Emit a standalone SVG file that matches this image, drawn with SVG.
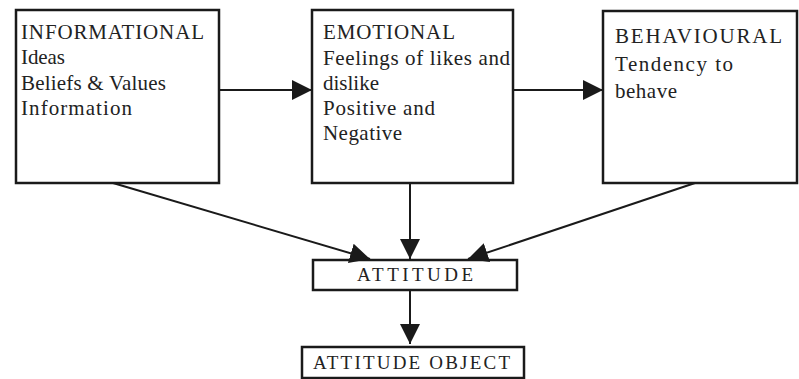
<svg xmlns="http://www.w3.org/2000/svg" width="799" height="379" viewBox="0 0 799 379">
<style>
.box{fill:none;stroke:#1a1a1a;stroke-width:2.5}
.t{font-family:"Liberation Serif","Times New Roman",serif;font-size:21px;fill:#222}
.s{font-family:"Liberation Serif","Times New Roman",serif;font-size:19px;fill:#222}
.c{stroke:#1a1a1a;stroke-width:2;fill:none}
</style>
<defs>
<marker id="ah" viewBox="0 0 20 20" refX="20" refY="10" markerWidth="20" markerHeight="20" markerUnits="userSpaceOnUse" orient="auto">
<path d="M0,0 L20,10 L0,20 Z" fill="#1a1a1a"/>
</marker>
</defs>
<rect width="799" height="379" fill="#fff"/>
<g id="informational">
<rect class="box" x="16" y="10" width="203" height="173"/>
<text class="t" x="21" y="39" textLength="183" lengthAdjust="spacing">INFORMATIONAL</text>
<text class="t" x="21" y="64" textLength="44" lengthAdjust="spacing">Ideas</text>
<text class="t" x="21" y="90" textLength="145" lengthAdjust="spacing">Beliefs &amp; Values</text>
<text class="t" x="21" y="115" textLength="111" lengthAdjust="spacing">Information</text>
</g>
<g id="emotional">
<rect class="box" x="312" y="10" width="201" height="173"/>
<text class="t" x="323" y="39" textLength="132" lengthAdjust="spacing">EMOTIONAL</text>
<text class="t" x="323" y="65" textLength="187" lengthAdjust="spacing">Feelings of likes and</text>
<text class="t" x="323" y="90" textLength="56" lengthAdjust="spacing">dislike</text>
<text class="t" x="323" y="115" textLength="112" lengthAdjust="spacing">Positive and</text>
<text class="t" x="323" y="140" textLength="79" lengthAdjust="spacing">Negative</text>
</g>
<g id="behavioural">
<rect class="box" x="603" y="11" width="194" height="172"/>
<text class="t" x="615" y="43" textLength="167" lengthAdjust="spacing">BEHAVIOURAL</text>
<text class="t" x="615" y="71" textLength="118" lengthAdjust="spacing">Tendency to</text>
<text class="t" x="615" y="98" textLength="62" lengthAdjust="spacing">behave</text>
</g>
<g id="attitude">
<rect class="box" x="313" y="260" width="204" height="30"/>
<text class="s" x="357" y="281" textLength="116" lengthAdjust="spacing">ATTITUDE</text>
</g>
<g id="attitude-object">
<rect class="box" x="302" y="347" width="222" height="31"/>
<text class="s" x="313" y="369" textLength="197" lengthAdjust="spacing">ATTITUDE OBJECT</text>
</g>
<g id="connectors">
<line class="c" x1="219" y1="90" x2="312" y2="90" marker-end="url(#ah)"/>
<line class="c" x1="513" y1="90" x2="603" y2="90" marker-end="url(#ah)"/>
<line class="c" x1="113" y1="183" x2="370" y2="259" marker-end="url(#ah)"/>
<line class="c" x1="410" y1="183" x2="410" y2="259" marker-end="url(#ah)"/>
<line class="c" x1="695" y1="183" x2="468" y2="259" marker-end="url(#ah)"/>
<line class="c" x1="410" y1="290" x2="410" y2="344" marker-end="url(#ah)"/>
</g>
</svg>
